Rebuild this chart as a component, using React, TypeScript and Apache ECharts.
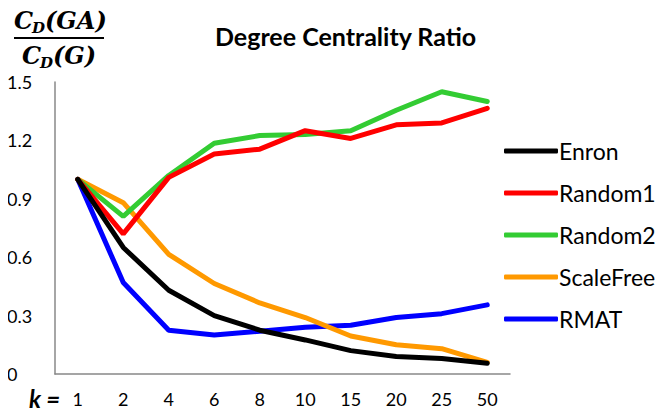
import React, { useEffect, useRef } from "react";
import * as echarts from "echarts";

const categories = ["1", "2", "4", "6", "8", "10", "15", "20", "25", "50"];
const enron = [1.0, 0.65, 0.43, 0.3, 0.225, 0.175, 0.12, 0.09, 0.08, 0.055];
const random1 = [1.0, 0.72, 1.01, 1.13, 1.155, 1.25, 1.21, 1.28, 1.29, 1.365];
const random2 = [1.0, 0.81, 1.02, 1.185, 1.225, 1.23, 1.25, 1.355, 1.45, 1.4];
const scaleFree = [1.0, 0.88, 0.615, 0.465, 0.365, 0.29, 0.195, 0.15, 0.13, 0.06];
const rmat = [1.0, 0.47, 0.225, 0.2, 0.22, 0.24, 0.25, 0.29, 0.31, 0.355];
const seriesNames = ["Enron", "Random1", "Random2", "ScaleFree", "RMAT"];
const seriesColors = ["#000000", "#ff0000", "#33cc33", "#ff9900", "#0000ff"];

const FONT = "Lato, 'Open Sans', sans-serif";
const MATH = "'DejaVu Serif', 'Liberation Serif', serif";

export default function App() {
  const ref = useRef<HTMLDivElement>(null);
  useEffect(() => {
    const chart = echarts.init(ref.current!, null, { renderer: "svg" });
    const data = [enron, random1, random2, scaleFree, rmat];
    const mathText = (x: number, y: number, t: string, size: number) => ({
      type: "text",
      left: x,
      top: y,
      style: {
        text: t,
        fontSize: size,
        fontWeight: "bold",
        fontStyle: "italic",
        fontFamily: MATH,
        fill: "#000",
      },
    });
    chart.setOption({
      animation: false,
      backgroundColor: "#fff",
      title: {
        text: "Degree Centrality Ratio",
        left: 210,
        top: 18,
        textStyle: { fontFamily: FONT, fontWeight: "bold", fontSize: 25, color: "#000" },
      },
      legend: {
        orient: "vertical",
        left: 499,
        top: 132,
        itemWidth: 54,
        itemHeight: 5,
        itemGap: 14,
        data: seriesNames.map((n, i) => ({
          name: n,
          icon: "roundRect",
          itemStyle: { color: seriesColors[i] },
        })),
        textStyle: { fontFamily: FONT, fontSize: 23, color: "#000", lineHeight: 28, padding: [0, 0, 0, -4] },
      },
      grid: { left: 55, right: 153, top: 82, bottom: 43 },
      xAxis: {
        type: "category",
        data: categories,
        boundaryGap: true,
        axisLine: { lineStyle: { color: "#888", width: 1.5 } },
        axisTick: { show: false },
        axisLabel: { fontFamily: FONT, fontSize: 18, color: "#000", margin: 16 },
      },
      yAxis: {
        type: "value",
        min: 0,
        max: 1.5,
        interval: 0.3,
        splitLine: { show: false },
        axisLine: { show: true, lineStyle: { color: "#888", width: 1.5 } },
        axisTick: { show: false },
        axisLabel: {
          fontFamily: FONT,
          fontSize: 18,
          color: "#000",
          align: "left",
          margin: 48,
          formatter: (v: number) => (v === 0 ? "0" : v.toFixed(1)),
        },
      },
      series: seriesNames.map((n, i) => ({
        name: n,
        type: "line",
        data: data[i],
        symbol: "none",
        lineStyle: { color: seriesColors[i], width: 5, cap: "round" },
        itemStyle: { color: seriesColors[i] },
        z: 10 - i,
      })),
      graphic: [
        mathText(14, 8, "C", 24),
        mathText(32, 20, "D", 15),
        mathText(45, 8, "(GA)", 24),
        {
          type: "line",
          shape: { x1: 14, y1: 38, x2: 104, y2: 38 },
          style: { stroke: "#000", lineWidth: 2 },
        },
        mathText(22, 43, "C", 24),
        mathText(40, 55, "D", 15),
        mathText(53, 43, "(G)", 24),
        {
          type: "text",
          left: 29,
          top: 386,
          style: {
            text: "k =",
            fontSize: 24,
            fontWeight: "bold",
            fontStyle: "italic",
            fontFamily: FONT,
            fill: "#000",
          },
        },
      ],
    });
    return () => chart.dispose();
  }, []);
  return <div ref={ref} style={{ width: 663, height: 417, margin: -8 }} />;
}
